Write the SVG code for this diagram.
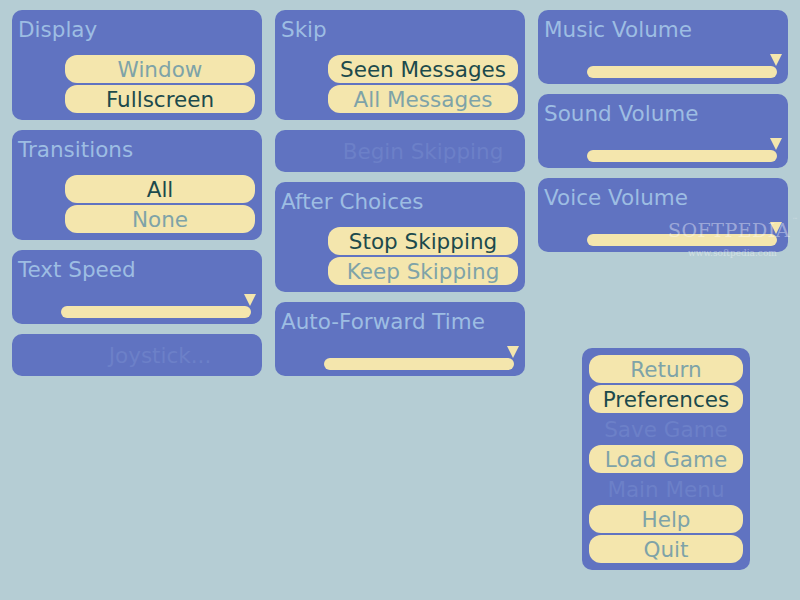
<svg xmlns="http://www.w3.org/2000/svg" width="800" height="600" viewBox="0 0 800 600">
<style>
.panel{fill:#6073c1}
.btn{fill:#f4e6ad}
.bar{fill:#f4e6ad}
.thumb{fill:#f4e6ad}
text{font-family:"DejaVu Sans","Liberation Sans",sans-serif;font-size:21.5px}
.title{fill:#9dbde3}
.sel{fill:#1c4a4c;text-anchor:middle}
.uns{fill:#7ea3a8;text-anchor:middle}
.dis{fill:#6c80c8;text-anchor:middle}
.wm{font-family:"DejaVu Serif","Liberation Serif",serif;fill:#ffffff;fill-opacity:0.4}
</style>
<rect width="800" height="600" fill="#b5cdd4"/>

<g id="display">
<rect class="panel" x="12" y="10" width="250" height="110" rx="10"/>
<text class="title" x="18" y="37">Display</text>
<rect class="btn" x="65" y="55" width="190" height="28" rx="12"/>
<text class="uns" x="160" y="77">Window</text>
<rect class="btn" x="65" y="85" width="190" height="28" rx="12"/>
<text class="sel" x="160" y="107">Fullscreen</text>
</g>

<g id="transitions">
<rect class="panel" x="12" y="130" width="250" height="110" rx="10"/>
<text class="title" x="18" y="157">Transitions</text>
<rect class="btn" x="65" y="175" width="190" height="28" rx="12"/>
<text class="sel" x="160" y="197">All</text>
<rect class="btn" x="65" y="205" width="190" height="28" rx="12"/>
<text class="uns" x="160" y="227">None</text>
</g>

<g id="textspeed">
<rect class="panel" x="12" y="250" width="250" height="74" rx="10"/>
<text class="title" x="18" y="277">Text Speed</text>
<rect class="bar" x="61" y="306" width="190" height="12" rx="6"/>
<polygon class="thumb" points="244,294 256,294 250,306"/>
</g>

<g id="joystick">
<rect class="panel" x="12" y="334" width="250" height="42" rx="10"/>
<text class="dis" x="160" y="363">Joystick...</text>
</g>

<g id="skip">
<rect class="panel" x="275" y="10" width="250" height="110" rx="10"/>
<text class="title" x="281" y="37">Skip</text>
<rect class="btn" x="328" y="55" width="190" height="28" rx="12"/>
<text class="sel" x="423" y="77">Seen Messages</text>
<rect class="btn" x="328" y="85" width="190" height="28" rx="12"/>
<text class="uns" x="423" y="107">All Messages</text>
</g>

<g id="beginskipping">
<rect class="panel" x="275" y="130" width="250" height="42" rx="10"/>
<text class="dis" x="423" y="159">Begin Skipping</text>
</g>

<g id="afterchoices">
<rect class="panel" x="275" y="182" width="250" height="110" rx="10"/>
<text class="title" x="281" y="209">After Choices</text>
<rect class="btn" x="328" y="227" width="190" height="28" rx="12"/>
<text class="sel" x="423" y="249">Stop Skipping</text>
<rect class="btn" x="328" y="257" width="190" height="28" rx="12"/>
<text class="uns" x="423" y="279">Keep Skipping</text>
</g>

<g id="autoforward">
<rect class="panel" x="275" y="302" width="250" height="74" rx="10"/>
<text class="title" x="281" y="329">Auto-Forward Time</text>
<rect class="bar" x="324" y="358" width="190" height="12" rx="6"/>
<polygon class="thumb" points="507,346 519,346 513,358"/>
</g>

<g id="musicvolume">
<rect class="panel" x="538" y="10" width="250" height="74" rx="10"/>
<text class="title" x="544" y="37">Music Volume</text>
<rect class="bar" x="587" y="66" width="190" height="12" rx="6"/>
<polygon class="thumb" points="770,54 782,54 776,66"/>
</g>

<g id="soundvolume">
<rect class="panel" x="538" y="94" width="250" height="74" rx="10"/>
<text class="title" x="544" y="121">Sound Volume</text>
<rect class="bar" x="587" y="150" width="190" height="12" rx="6"/>
<polygon class="thumb" points="770,138 782,138 776,150"/>
</g>

<g id="voicevolume">
<rect class="panel" x="538" y="178" width="250" height="74" rx="10"/>
<text class="title" x="544" y="205">Voice Volume</text>
<rect class="bar" x="587" y="234" width="190" height="12" rx="6"/>
<polygon class="thumb" points="770,222 782,222 776,234"/>
</g>

<g id="menu">
<rect class="panel" x="582" y="348" width="168" height="222" rx="10"/>
<rect class="btn" x="589" y="355" width="154" height="28" rx="12"/>
<text class="uns" x="666" y="377">Return</text>
<rect class="btn" x="589" y="385" width="154" height="28" rx="12"/>
<text class="sel" x="666" y="407">Preferences</text>
<text class="dis" x="666" y="437">Save Game</text>
<rect class="btn" x="589" y="445" width="154" height="28" rx="12"/>
<text class="uns" x="666" y="467">Load Game</text>
<text class="dis" x="666" y="497">Main Menu</text>
<rect class="btn" x="589" y="505" width="154" height="28" rx="12"/>
<text class="uns" x="666" y="527">Help</text>
<rect class="btn" x="589" y="535" width="154" height="28" rx="12"/>
<text class="uns" x="666" y="557">Quit</text>
</g>

<g id="watermark">
<text class="wm" x="668" y="237" style="font-size:19px;letter-spacing:0.5px">SOFTPEDIA</text>
<text class="wm" x="792" y="222" style="font-size:6px">™</text>
<text class="wm" x="688" y="256" style="font-size:9px">www.softpedia.com</text>
</g>
</svg>
